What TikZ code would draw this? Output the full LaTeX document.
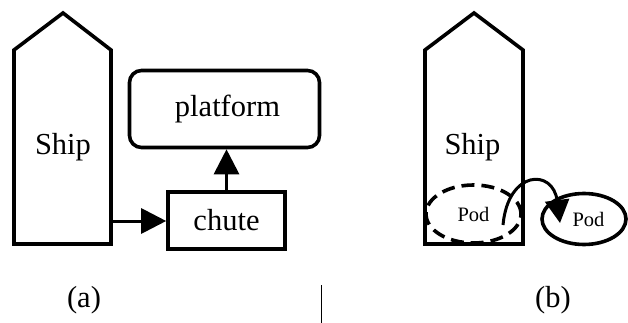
\documentclass[tikz,border=0pt]{standalone}
\usepackage{fontspec}
\setmainfont{Liberation Serif}
\usetikzlibrary{arrows.meta,shapes.geometric}
\begin{document}
\begin{tikzpicture}[x=1pt,y=-1pt,
  line width=3.6pt, line join=miter,
  big/.style={font=\fontsize{30.5}{36}\selectfont},
  small/.style={font=\fontsize{20.5}{24}\selectfont},
  bigtip/.style={line width=3pt, -{Triangle[length=25pt,width=25pt]}},
  smalltip/.style={line width=3pt, -{Triangle[length=23pt,width=24pt]}},
  boxnode/.style={draw, inner sep=0pt, big},
  podnode/.style={draw, ellipse, inner sep=0pt, small}]
\useasboundingbox (0,0) rectangle (628,323);

% ---- (a) ship, chute and platform ----
\draw (14,244) -- (14,50) -- (63,13) -- (111,50) -- (111,244) -- cycle;
\node[big] (shipA) at (63,147) {Ship};
\coordinate (shipAport) at (111,221);
\node[boxnode, minimum width=117pt, minimum height=57pt] (chute) at (226.5,220.5) {chute};
\node[boxnode, rounded corners=12pt, minimum width=190pt, minimum height=77pt, text width=190pt, align=center] (platform) at (224.5,109) {\hspace*{6pt}platform};
\draw[bigtip] (shipAport) -- (shipAport -| chute.west);
\draw[bigtip] (chute.north) -- (chute.north |- platform.south);

% ---- (b) ship releasing a pod ----
\draw (425,244) -- (425,50) -- (474,13) -- (523,50) -- (523,244) -- cycle;
\node[big] (shipB) at (472.5,147) {Ship};
\node[podnode, dashed, dash pattern=on 13pt off 7pt, minimum width=95pt, minimum height=58pt] (podin) at (473.5,214) {Pod};
\node[podnode, minimum width=84pt, minimum height=51pt] (podout) at (584,219) {\hspace*{9pt}Pod};
\coordinate (launch) at (503,225);
\coordinate (land) at (560,223);
\draw[smalltip] (launch) .. controls (508,170) and (553,168) .. (land);

% ---- captions ----
\draw[line width=1pt] (321,285) -- (321,323);
\node[big] (capA) at (84,300) {(a)};
\node[big] (capB) at (553,300) {(b)};
\end{tikzpicture}
\end{document}
